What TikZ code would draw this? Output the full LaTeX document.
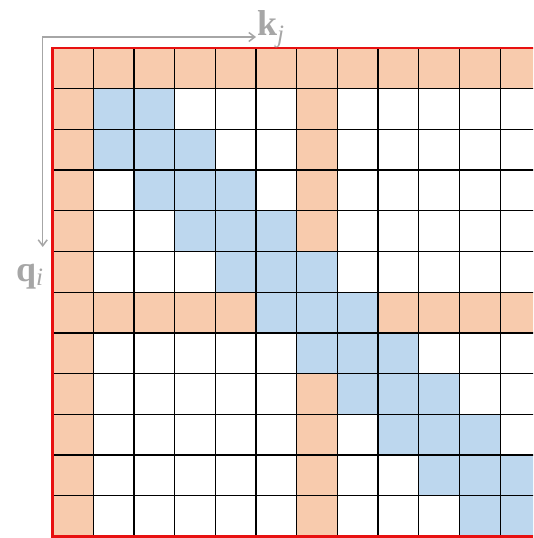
\documentclass[tikz,border=0pt]{standalone}
\usepackage{fontspec}
\setmainfont{Liberation Serif}
\usetikzlibrary{arrows.meta}
\definecolor{peach}{HTML}{F8CBAD}
\definecolor{lblue}{HTML}{BDD7EE}
\definecolor{axisgray}{HTML}{A6A6A6}
\definecolor{bordred}{HTML}{E81010}
\begin{document}
\begin{tikzpicture}[x=1pt,y=-1pt,
  gcell/.style={fill=peach},
  bcell/.style={fill=lblue},
  gridline/.style={black, line width=1.3pt},
  axis/.style={axisgray, line width=1.5pt},
  axlabel/.style={text=axisgray, inner sep=0pt, anchor=base west, font=\fontsize{36}{40}\selectfont\bfseries}]
\useasboundingbox (0,0) rectangle (533,538);
\def\cs{40.7}
\def\xo{52.5}
\def\yo{48}
\begin{scope}
\clip (0,0) rectangle (533,538);
% global rows / columns
\fill[gcell] (\xo,\yo) rectangle ++(13*\cs,\cs);
\fill[gcell] (\xo,{\yo+6*\cs}) rectangle ++(13*\cs,\cs);
\fill[gcell] (\xo,\yo) rectangle ++(\cs,12*\cs);
\fill[gcell] ({\xo+6*\cs},\yo) rectangle ++(\cs,12*\cs);
% sliding window
\foreach \r in {1,...,11}{
  \foreach \d in {-1,0,1}{
    \pgfmathtruncatemacro\cc{\r+\d}
    \ifnum\cc>0
      \fill[bcell] ({\xo+\cc*\cs},{\yo+\r*\cs}) rectangle ++(\cs,\cs);
    \fi
  }
}
% grid
\foreach \i in {1,...,12}{
  \draw[gridline] ({\xo+\i*\cs},\yo) -- ++(0,12*\cs);
}
\foreach \j in {1,...,11}{
  \draw[gridline] (\xo,{\yo+\j*\cs}) -- ++(13*\cs,0);
}
% border
\draw[bordred, line width=2.2pt] ({\xo+13*\cs},\yo) -- (\xo,\yo) -- (\xo,{\yo+12*\cs}) -- ({\xo+13*\cs},{\yo+12*\cs});
\end{scope}
% axes
\coordinate (corner) at (42.7,37);
\coordinate (kend) at (256,37);
\coordinate (qend) at (42.7,247);
\draw[axis, {Straight Barb[length=6pt,width=9pt]}-{Straight Barb[length=6pt,width=9pt]}] (qend) |- (kend);
\node[axlabel] (klab) at (257,35) {k\raisebox{-0.22em}{\fontsize{25}{25}\selectfont\mdseries\itshape j}};
\node[axlabel] (qlab) at (16,281) {q\raisebox{-0.12em}{\fontsize{25}{25}\selectfont\mdseries\itshape i}};
\end{tikzpicture}
\end{document}
